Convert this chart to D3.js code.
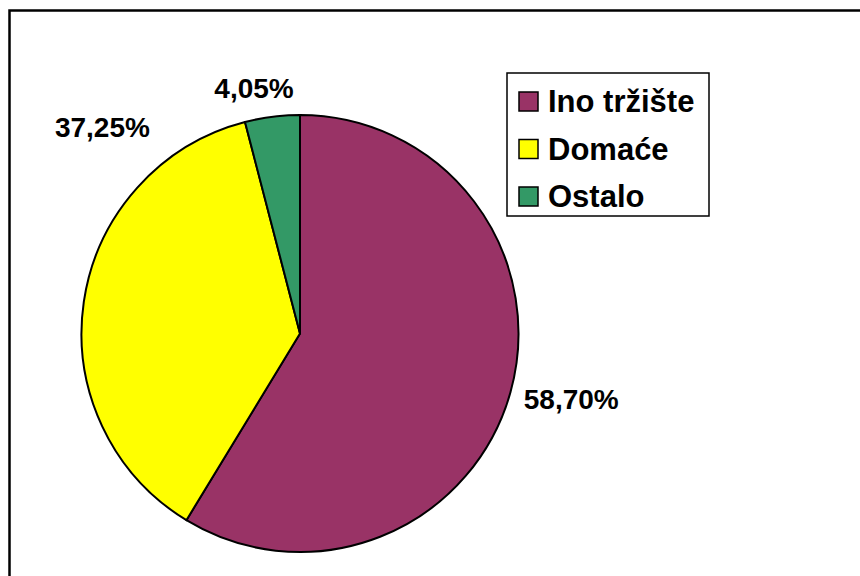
<!DOCTYPE html>
<html><head><meta charset="utf-8">
<script src="https://cdn.jsdelivr.net/npm/d3@7"></script>
<style>body{margin:0;background:#fff}svg{display:block}text{font-family:"Liberation Sans",Arial,sans-serif;font-weight:bold;fill:#000}</style>
</head><body>
<svg id="c" width="860" height="576"></svg>
<script>
const categories = ["Ino tržište", "Domaće", "Ostalo"];
const values = [58.70, 37.25, 4.05];
const labels = ["58,70%", "37,25%", "4,05%"];
const colors = ["#993366", "#FFFF00", "#339966"];
// label placement (angle in degrees clockwise from top, radius from pie centre)
const labelAngles = [103.5, 316.3, 349.4];
const labelRadii = [279, 286, 250];

const svg = d3.select("#c");
svg.append("rect").attr("x", 9.5).attr("y", 10.5).attr("width", 870).attr("height", 600)
  .attr("fill", "#fff").attr("stroke", "#000").attr("stroke-width", 2.5);

const cx = 300, cy = 333.5, R = 218.5;
const pie = d3.pie().sort(null).value(d => d)(values);
const arc = d3.arc().innerRadius(0).outerRadius(R);
const g = svg.append("g").attr("transform", `translate(${cx},${cy})`);
g.selectAll("path").data(pie).enter().append("path")
  .attr("d", arc).attr("fill", (d, i) => colors[i])
  .attr("stroke", "#000").attr("stroke-width", 2).attr("stroke-linejoin", "round");

const rad = d => d * Math.PI / 180;
g.selectAll("text.lbl").data(pie).enter().append("text").attr("class", "lbl")
  .attr("x", (d, i) => labelRadii[i] * Math.sin(rad(labelAngles[i])))
  .attr("y", (d, i) => -labelRadii[i] * Math.cos(rad(labelAngles[i])))
  .attr("dy", "0.36em").attr("text-anchor", "middle")
  .style("font-size", "28px").text((d, i) => labels[i]);

// legend
const lg = svg.append("g");
lg.append("rect").attr("x", 507).attr("y", 73).attr("width", 202).attr("height", 143)
  .attr("fill", "#fff").attr("stroke", "#000").attr("stroke-width", 1.5);
const ly = d3.scalePoint().domain(categories).range([101.5, 196.5]);
categories.forEach((c, i) => {
  lg.append("rect").attr("x", 519).attr("y", ly(c) - 9.5).attr("width", 19).attr("height", 19)
    .attr("fill", colors[i]).attr("stroke", "#000").attr("stroke-width", 1.5);
  lg.append("text").attr("x", 548).attr("y", ly(c) + 10.5)
    .style("font-size", "31px").text(c);
});
</script>
</body></html>
